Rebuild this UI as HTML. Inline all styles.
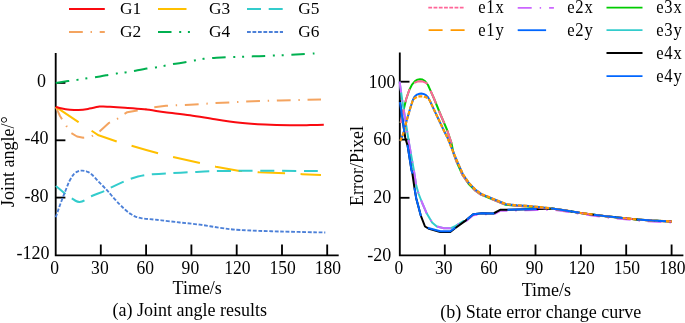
<!DOCTYPE html>
<html><head><meta charset="utf-8"><title>chart</title>
<style>html,body{margin:0;padding:0;background:#fff}body{width:685px;height:323px;overflow:hidden;font-family:"Liberation Serif",serif}</style></head>
<body>
<svg width="685" height="323" viewBox="0 0 685 323" style="display:block">
<rect width="685" height="323" fill="#fff"/>
<g font-family="'Liberation Serif', serif" font-size="17.5" fill="#000" opacity="0.999">
<g stroke="#000" stroke-width="1.85" fill="none" stroke-linecap="butt">
<path d="M55.7 53 V255.3 H338.7"/>
<path d="M55.7 82.9 H65.4"/>
<path d="M55.7 140.3 H65.4"/>
<path d="M55.7 197.6 H65.4"/>
<path d="M100.8 255.3 V244.5"/>
<path d="M146.1 255.3 V244.5"/>
<path d="M191.4 255.3 V244.5"/>
<path d="M236.7 255.3 V244.5"/>
<path d="M282 255.3 V244.5"/>
<path d="M327.2 255.3 V244.5"/>
<path d="M399.8 52.5 V255.3 H683.4"/>
<path d="M399.8 81.7 H409.5"/>
<path d="M399.8 139.6 H409.5"/>
<path d="M399.8 197.8 H409.5"/>
<path d="M444.8 255.3 V244.5"/>
<path d="M490.1 255.3 V244.5"/>
<path d="M535.5 255.3 V244.5"/>
<path d="M580.9 255.3 V244.5"/>
<path d="M626.2 255.3 V244.5"/>
<path d="M671.6 255.3 V244.5"/>
</g>
<text x="45.9" y="87.0" text-anchor="end" font-size="18">0</text>
<text x="48.5" y="144.4" text-anchor="end" font-size="18">-40</text>
<text x="48.5" y="201.7" text-anchor="end" font-size="18">-80</text>
<text x="49.6" y="259.3" text-anchor="end" font-size="18">-120</text>
<text transform="translate(54.7,273.7) scale(0.905,1)" text-anchor="middle" font-size="19.4">0</text>
<text transform="translate(99.9,273.7) scale(0.905,1)" text-anchor="middle" font-size="19.4">30</text>
<text transform="translate(145.2,273.7) scale(0.905,1)" text-anchor="middle" font-size="19.4">60</text>
<text transform="translate(190.4,273.7) scale(0.905,1)" text-anchor="middle" font-size="19.4">90</text>
<text transform="translate(237.4,273.7) scale(0.905,1)" text-anchor="middle" font-size="19.4">120</text>
<text transform="translate(282.7,273.7) scale(0.905,1)" text-anchor="middle" font-size="19.4">150</text>
<text transform="translate(327.9,273.7) scale(0.905,1)" text-anchor="middle" font-size="19.4">180</text>
<text x="197.2" y="294.4" text-anchor="middle" font-size="18">Time/s</text>
<text x="189.7" y="315.8" text-anchor="middle" font-size="18">(a) Joint angle results</text>
<text transform="translate(13.7,161.6) rotate(-90)" text-anchor="middle" font-size="18">Joint angle/°</text>
<text x="395.6" y="88" text-anchor="end" font-size="18">100</text>
<text x="391.2" y="145" text-anchor="end" font-size="18">60</text>
<text x="391.2" y="203.1" text-anchor="end" font-size="18">20</text>
<text x="391.3" y="260.5" text-anchor="end" font-size="18">-20</text>
<text transform="translate(398.8,273.7) scale(0.905,1)" text-anchor="middle" font-size="19.4">0</text>
<text transform="translate(443.8,273.7) scale(0.905,1)" text-anchor="middle" font-size="19.4">30</text>
<text transform="translate(489.1,273.7) scale(0.905,1)" text-anchor="middle" font-size="19.4">60</text>
<text transform="translate(534.5,273.7) scale(0.905,1)" text-anchor="middle" font-size="19.4">90</text>
<text transform="translate(581.6,273.7) scale(0.905,1)" text-anchor="middle" font-size="19.4">120</text>
<text transform="translate(626.9,273.7) scale(0.905,1)" text-anchor="middle" font-size="19.4">150</text>
<text transform="translate(672.3,273.7) scale(0.905,1)" text-anchor="middle" font-size="19.4">180</text>
<text x="546.4" y="295.7" text-anchor="middle" font-size="18">Time/s</text>
<text x="540.8" y="318.4" text-anchor="middle" font-size="18">(b) State error change curve</text>
<text transform="translate(362.8,166) rotate(-90)" text-anchor="middle" font-size="18">Error/Pixel</text>
<text transform="translate(120.1,14.1) scale(0.98,1)" font-size="17.7">G1</text>
<text transform="translate(120.1,37) scale(0.98,1)" font-size="17.7">G2</text>
<text transform="translate(209.1,14.1) scale(0.98,1)" font-size="17.7">G3</text>
<text transform="translate(209.1,37) scale(0.98,1)" font-size="17.7">G4</text>
<text transform="translate(298.2,14.1) scale(0.98,1)" font-size="17.7">G5</text>
<text transform="translate(298.2,37) scale(0.98,1)" font-size="17.7">G6</text>
<text transform="translate(478.2,12.8) scale(0.91,1)" letter-spacing="0.9" font-size="18.2">e1x</text>
<text transform="translate(478.2,35.7) scale(0.91,1)" letter-spacing="0.9" font-size="18.2">e1y</text>
<text transform="translate(567.2,12.8) scale(0.91,1)" letter-spacing="0.9" font-size="18.2">e2x</text>
<text transform="translate(567.2,35.7) scale(0.91,1)" letter-spacing="0.9" font-size="18.2">e2y</text>
<text transform="translate(656.2,12.8) scale(0.91,1)" letter-spacing="0.9" font-size="18.2">e3x</text>
<text transform="translate(656.2,35.7) scale(0.91,1)" letter-spacing="0.9" font-size="18.2">e3y</text>
<text transform="translate(656.2,58.6) scale(0.91,1)" letter-spacing="0.9" font-size="18.2">e4x</text>
<text transform="translate(656.2,81.7) scale(0.91,1)" letter-spacing="0.9" font-size="18.2">e4y</text>
</g>
<polyline points="69.0,9.0 104.8,9.0" fill="none" stroke="#FA0A10" stroke-width="2" stroke-linecap="butt" stroke-linejoin="round"/>
<polyline points="69.0,32.0 104.8,32.0" fill="none" stroke="#F4A460" stroke-width="2" stroke-linecap="butt" stroke-linejoin="round" stroke-dasharray="13.8 7.75 1.4 7.75"/>
<polyline points="158.0,9.0 186.5,9.0" fill="none" stroke="#FFC000" stroke-width="2" stroke-linecap="butt" stroke-linejoin="round"/>
<polyline points="158.0,32.0 194.0,32.0" fill="none" stroke="#00B050" stroke-width="2" stroke-linecap="butt" stroke-linejoin="round" stroke-dasharray="13.5 7.7 2 6.7 2 7.7"/>
<polyline points="247.0,9.0 283.0,9.0" fill="none" stroke="#33CCCC" stroke-width="2" stroke-linecap="butt" stroke-linejoin="round" stroke-dasharray="14 7.7"/>
<polyline points="247.0,32.0 283.0,32.0" fill="none" stroke="#4C80D8" stroke-width="2" stroke-linecap="butt" stroke-linejoin="round" stroke-dasharray="3.8 1.67"/>
<path d="M55.8 82.9 C57.8 82.6 64.0 81.7 68.0 81.1 C72.0 80.5 74.7 80.2 80.0 79.4 C85.3 78.6 95.3 77.1 100.0 76.4 C104.7 75.7 105.3 75.5 108.0 75.0 C110.7 74.5 113.3 74.0 116.2 73.6 C119.1 73.2 122.3 72.8 125.2 72.4 C128.1 72.0 129.9 71.8 133.5 71.1 C137.1 70.4 143.1 69.1 146.8 68.5 C150.5 67.9 152.7 67.9 155.6 67.4 C158.5 67.0 161.6 66.3 164.4 65.8 C167.2 65.2 169.0 64.7 172.7 64.1 C176.4 63.5 182.9 62.7 186.5 62.1 C190.1 61.5 191.6 61.0 194.4 60.5 C197.2 60.0 200.6 59.2 203.6 58.8 C206.6 58.4 208.6 58.4 212.3 58.1 C216.0 57.9 219.1 57.6 225.7 57.3 C232.3 57.0 245.3 56.6 251.9 56.4 C258.5 56.2 258.7 56.2 265.3 55.9 C271.9 55.6 285.1 55.1 291.7 54.8 C298.3 54.5 301.3 54.1 305.1 53.9 C308.9 53.7 312.9 53.5 314.5 53.4" fill="none" stroke="#00B050" stroke-width="2" stroke-linecap="butt" stroke-linejoin="round" stroke-dasharray="13.5 7.7 2 6.7 2 7.7"/>
<polyline points="55.8,106.9 60.0,116.0 65.8,125.0 71.2,133.1 77.0,136.5 83.3,137.7 91.6,136.4 99.3,131.6 109.1,122.8 117.2,118.9 124.4,114.0 127.3,112.2 137.3,110.6 145.2,109.3 152.5,107.5 166.0,105.8 175.9,105.3 190.0,104.7 215.0,103.1 245.0,101.6 280.0,100.4 321.0,99.4" fill="none" stroke="#F4A460" stroke-width="2" stroke-linecap="butt" stroke-linejoin="round" stroke-dasharray="13.8 7.75 1.4 7.75"/>
<polyline points="55.8,106.9 78.5,122.2 91.2,130.5 98.6,135.3 116.8,141.5 131.5,145.8 146.2,150.0 158.8,153.5 172.7,157.0 200.0,163.1 215.9,166.7 239.6,170.9 259.1,172.3 286.2,173.4 302.3,174.2 321.0,175.1" fill="none" stroke="#FFC000" stroke-width="2" stroke-linecap="butt" stroke-linejoin="round" stroke-dasharray="27.5 15.5"/>
<path d="M55.8 106.9 C56.8 107.2 59.6 108.1 62.0 108.6 C64.4 109.1 67.2 109.5 70.0 109.8 C72.8 110.0 75.5 110.2 78.5 110.1 C81.5 109.9 84.5 109.5 88.0 108.9 C91.5 108.3 97.4 106.8 99.3 106.4 C101.1 106.5 105.7 106.6 110.0 106.8 C114.3 107.0 119.3 107.3 125.0 107.7 C130.7 108.1 137.5 108.5 144.2 109.3 C150.9 110.0 157.4 111.2 165.0 112.2 C172.6 113.2 181.7 114.0 190.0 115.2 C198.3 116.4 206.7 118.0 215.0 119.3 C223.3 120.6 231.7 121.9 240.0 122.8 C248.3 123.7 256.7 124.2 265.0 124.6 C273.3 125.0 282.5 125.2 290.0 125.3 C297.5 125.4 304.4 125.2 310.0 125.1 C315.6 125.0 321.5 124.8 323.8 124.7" fill="none" stroke="#FA0A10" stroke-width="2" stroke-linecap="butt" stroke-linejoin="round"/>
<path d="M55.8 186.0 C57.4 187.3 63.5 192.3 65.5 194.0 C67.5 195.7 66.9 195.4 68.0 196.2 C69.1 197.0 71.0 197.8 72.3 198.6 C73.6 199.4 74.8 200.4 76.0 201.0 C77.2 201.6 78.3 201.8 79.3 201.9 C80.3 202.0 81.1 201.8 82.0 201.5 C82.9 201.2 83.2 201.1 84.8 200.2 C86.4 199.3 88.5 197.5 91.8 196.0 C95.1 194.5 101.1 192.5 104.4 191.0 C107.8 189.5 108.7 188.7 111.9 187.1 C115.2 185.5 120.8 182.9 123.9 181.5 C127.1 180.1 128.5 179.5 130.8 178.7 C133.2 177.9 135.7 177.1 138.0 176.5 C140.3 175.9 142.4 175.5 144.8 175.1 C147.2 174.7 149.0 174.6 152.6 174.3 C156.2 174.0 160.6 173.7 166.5 173.4 C172.4 173.1 180.8 172.7 188.0 172.3 C195.2 172.0 202.8 171.5 210.0 171.3 C217.2 171.1 213.0 171.0 231.0 170.9 C249.0 170.8 303.7 170.9 318.2 170.9" fill="none" stroke="#33CCCC" stroke-width="2" stroke-linecap="butt" stroke-linejoin="round" stroke-dasharray="14 7.7" stroke-dashoffset="1.5"/>
<path d="M55.8 217.3 C56.5 215.2 58.2 209.9 60.0 205.0 C61.8 200.1 65.0 191.8 66.7 187.6 C68.4 183.4 68.8 182.2 70.0 180.0 C71.2 177.8 72.4 175.8 73.7 174.3 C75.0 172.9 76.6 171.9 78.0 171.3 C79.4 170.7 80.6 170.6 82.1 170.6 C83.6 170.6 85.4 170.9 87.0 171.6 C88.6 172.2 90.0 172.9 91.8 174.5 C93.6 176.1 95.7 178.6 98.0 181.0 C100.3 183.4 103.5 186.5 105.8 189.0 C108.1 191.5 109.7 193.4 112.0 196.0 C114.3 198.6 117.5 202.2 119.7 204.4 C121.9 206.7 123.2 207.9 125.0 209.5 C126.8 211.1 129.0 212.9 130.8 214.1 C132.6 215.3 134.1 216.1 136.0 216.8 C137.9 217.5 139.7 217.9 142.0 218.3 C144.3 218.7 146.8 218.9 150.0 219.2 C153.2 219.5 156.5 219.8 161.5 220.3 C166.5 220.9 173.6 221.8 180.0 222.5 C186.4 223.2 193.3 223.8 200.0 224.7 C206.7 225.6 213.3 226.9 220.0 227.8 C226.7 228.7 230.2 229.4 240.2 230.0 C250.2 230.6 265.8 231.1 280.0 231.5 C294.2 231.9 317.8 232.3 325.3 232.5" fill="none" stroke="#4C80D8" stroke-width="1.85" stroke-linecap="butt" stroke-linejoin="round" stroke-dasharray="3.8 1.67"/>
<polyline points="428.3,7.7 465.1,7.7" fill="none" stroke="#FF6699" stroke-width="1.8" stroke-linecap="butt" stroke-linejoin="round" stroke-dasharray="3.8 1.45"/>
<polyline points="428.6,30.2 464.6,30.2" fill="none" stroke="#FF9900" stroke-width="1.8" stroke-linecap="butt" stroke-linejoin="round" stroke-dasharray="14 8"/>
<polyline points="517.7,7.8 553.9,7.8" fill="none" stroke="#CC66FF" stroke-width="1.8" stroke-linecap="butt" stroke-linejoin="round" stroke-dasharray="14 8 1.4 8"/>
<polyline points="517.7,30.2 546.1,30.2" fill="none" stroke="#0066FF" stroke-width="1.8" stroke-linecap="butt" stroke-linejoin="round"/>
<polyline points="606.5,7.6 642.5,7.6" fill="none" stroke="#00CC00" stroke-width="1.8" stroke-linecap="butt" stroke-linejoin="round"/>
<polyline points="606.5,30.2 642.5,30.2" fill="none" stroke="#33CCCC" stroke-width="1.8" stroke-linecap="butt" stroke-linejoin="round"/>
<polyline points="606.5,53.0 642.5,53.0" fill="none" stroke="#000" stroke-width="1.8" stroke-linecap="butt" stroke-linejoin="round"/>
<polyline points="606.5,76.1 642.5,76.1" fill="none" stroke="#0066FF" stroke-width="1.8" stroke-linecap="butt" stroke-linejoin="round"/>
<polyline points="400.5,123.0 403.0,112.5 406.2,99.0 409.4,89.7 412.0,84.6 415.0,81.2 417.5,79.7 420.0,79.2 422.5,79.6 425.0,81.0 428.0,85.0 430.5,90.6 434.0,98.5 440.5,114.5 447.1,130.0 451.5,143.1 453.6,153.6 456.6,161.8 462.3,174.7 468.5,183.7 474.7,190.1 480.9,194.6 505.6,204.7 516.4,205.8 527.6,206.5 540.0,207.7 549.4,208.7 552.0,208.5 568.5,210.9 580.3,212.9 592.0,214.4 603.8,216.1 622.6,218.0 636.8,219.4 652.0,220.6 666.2,221.2 671.8,221.5" fill="none" stroke="#00CC00" stroke-width="2" stroke-linecap="butt" stroke-linejoin="round"/>
<polyline points="399.6,81.6 402.2,100.0 408.2,138.0 408.8,142.0 413.8,170.0 416.2,185.3 418.5,193.5 422.0,202.5 426.8,213.6 432.1,222.4 436.8,226.5 443.8,228.3 450.3,228.3 455.6,225.9 463.8,220.9 465.6,221.6" fill="none" stroke="#33CCCC" stroke-width="2" stroke-linecap="butt" stroke-linejoin="round"/>
<polyline points="399.6,81.6 402.2,100.0 408.2,138.0 408.8,142.0 413.8,170.0 416.2,185.3 418.5,193.5 422.0,202.5 426.8,213.6 432.1,222.4 436.8,226.5 443.8,228.3 450.3,228.3 455.6,225.9 463.8,220.9 465.6,221.6 473.2,215.2 481.8,214.2 493.5,214.5 500.6,210.7 507.6,210.7 537.0,210.1 550.0,209.7 552.0,209.5 568.5,211.9 580.3,213.9 592.0,215.4 603.8,217.1 622.6,219.0 636.8,220.4 652.0,221.6 666.2,222.2 671.8,222.5" fill="none" stroke="#CC66FF" stroke-width="2" stroke-linecap="butt" stroke-linejoin="round" stroke-dasharray="14 7.8 1.5 7.7" stroke-dashoffset="2.98"/>
<polyline points="399.8,100.5 400.2,103.5 405.3,138.0 407.6,145.6 411.5,170.0 412.4,173.5 414.4,187.6 416.2,198.2 418.8,208.0 420.9,215.9 425.0,226.5 429.1,228.9 440.3,232.0 450.3,232.0 454.4,228.7 465.6,220.6 473.2,214.2 481.8,213.2 493.5,213.5 500.6,209.7 507.6,209.7 537.0,209.1 550.0,208.7 552.0,208.5 568.5,210.9 580.3,212.9 592.0,214.4 603.8,216.1 622.6,218.0 636.8,219.4 652.0,220.6 666.2,221.2 671.8,221.5" fill="none" stroke="#000" stroke-width="2" stroke-linecap="butt" stroke-linejoin="round"/>
<polyline points="400.5,123.0 403.0,112.5 406.2,99.0 409.4,89.7 412.0,86.0 414.3,82.9 417.5,81.6 420.0,81.2 423.0,81.6 426.5,83.1 428.5,86.2 430.5,90.6 434.0,98.5 440.5,114.5 447.1,130.0 451.5,143.1 453.6,153.6 456.6,161.8 462.3,174.7 468.5,183.7 474.7,190.1 480.9,194.6 505.6,204.7 516.4,205.8 527.6,206.5 540.0,207.7 549.4,208.7 552.0,208.5 568.5,210.9 580.3,212.9 592.0,214.4 603.8,216.1 622.6,218.0 636.8,219.4 652.0,220.6 666.2,221.2 671.8,221.5" fill="none" stroke="#FF6699" stroke-width="2" stroke-linecap="butt" stroke-linejoin="round" stroke-dasharray="14 7.5" stroke-dashoffset="0.12"/>
<polyline points="400.3,141.0 403.0,134.5 406.5,121.2 410.0,109.0 412.9,100.0 414.5,96.8 417.0,94.6 419.5,93.7 421.3,93.6 423.5,93.9 426.0,95.2 428.0,97.3 429.5,100.0 436.5,115.0 443.6,130.0 447.6,138.0 452.4,150.0 457.6,162.4 462.9,174.2 469.1,183.2 475.3,189.6 481.5,194.1 506.2,204.2 517.0,205.3 528.2,206.0 540.6,207.2 550.0,208.2" fill="none" stroke="#0066FF" stroke-width="2" stroke-linecap="butt" stroke-linejoin="round"/>
<polyline points="400.3,141.0 403.0,134.5 406.5,121.2 410.0,109.0 412.6,101.0 414.5,98.3 417.0,96.9 419.5,96.4 421.3,96.3 423.5,96.5 426.0,97.2 428.0,98.4 429.8,100.6 436.5,115.0 443.6,130.0 447.6,138.0 452.4,150.0 457.6,162.4 462.9,174.2 469.1,183.2 475.3,189.6 481.5,194.1 506.2,204.2 517.0,205.3 528.2,206.0 540.6,207.2 550.0,208.2 552.0,208.5 568.5,210.9 580.3,212.9 592.0,214.4 603.8,216.1 622.6,218.0 636.8,219.4 652.0,220.6 666.2,221.2 671.8,221.5" fill="none" stroke="#FF9900" stroke-width="2.2" stroke-linecap="butt" stroke-linejoin="round" stroke-dasharray="3.9 1.6"/>
<polyline points="399.8,100.5 400.2,103.5 405.3,138.0 407.6,145.6 411.5,170.0 412.4,173.5 414.4,187.6 416.2,198.2 418.8,208.0 420.9,215.9 425.0,226.5 429.1,228.3 440.3,231.2 450.3,231.2 454.4,228.3 465.6,220.6 473.2,214.2 481.8,213.2 493.5,213.5 500.6,209.7 507.6,209.7 537.0,209.1 550.0,208.7 552.0,208.5 568.5,210.9 580.3,212.9 592.0,214.4 603.8,216.1 622.6,218.0 636.8,219.4 652.0,220.6 666.2,221.2 671.8,221.5" fill="none" stroke="#0066FF" stroke-width="2" stroke-linecap="butt" stroke-linejoin="round" stroke-dasharray="29.2 14.2" stroke-dashoffset="41.7"/>
</svg>
</body></html>
